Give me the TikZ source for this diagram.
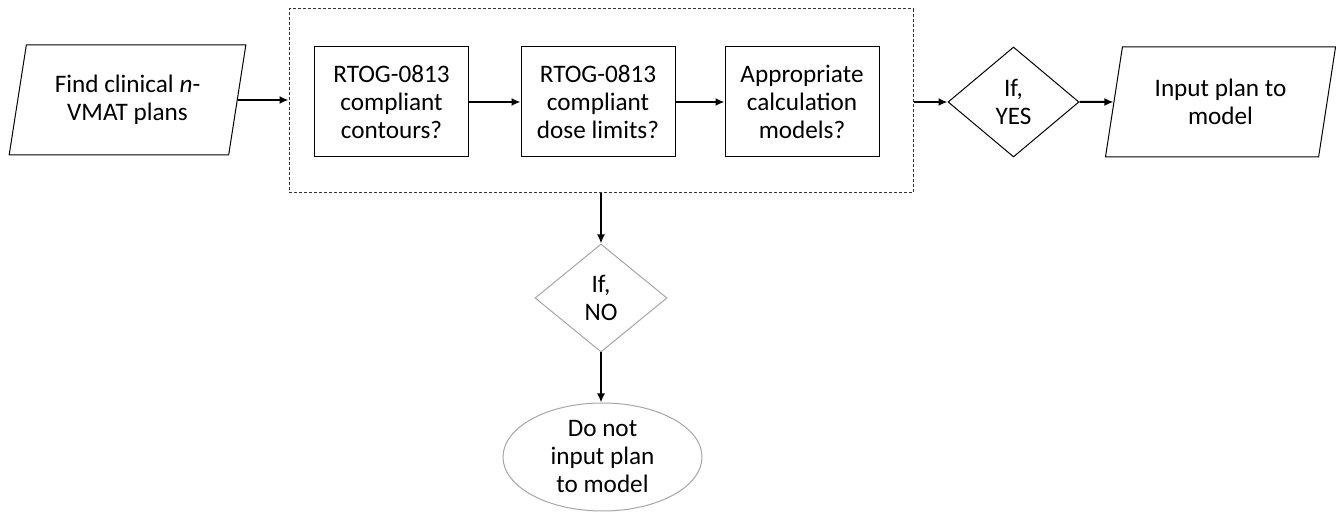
\documentclass[tikz,border=0pt]{standalone}
\usepackage{fontspec}
\setmainfont{Carlito}
\usetikzlibrary{shapes.geometric,arrows.meta}
\begin{document}
\begin{tikzpicture}[x=0.5pt,y=-0.5pt,
  every node/.style={font=\fontsize{12.6}{14}\selectfont, align=center, inner sep=0pt},
  plan/.style={draw, line width=0.5pt, trapezium, trapezium left angle=76, trapezium right angle=104,
    trapezium stretches=true, minimum width=119pt, minimum height=55pt},
  check/.style={draw, line width=0.5pt, rectangle, minimum width=77pt, minimum height=55pt},
  test/.style={draw, line width=0.5pt, diamond, minimum width=65.5pt, minimum height=55pt},
  flow/.style={line width=1pt, -{Latex[length=4.5pt,width=4pt]}}]
\useasboundingbox (0,0) rectangle (1336,512);
% input side
\node [plan] (find) at (127.5,100) {Find clinical \emph{n}-\\VMAT plans};
% checks, inside the dashed frame
\node [draw=black!80, line width=0.5pt, dash pattern=on 1.5pt off 1pt,
  minimum width=312pt, minimum height=92pt] (checks) at (601,101) {};
\node [check] (contours) at (391.5,102) {RTOG-0813\\compliant\\contours?};
\node [check] (dose) at (598,102) {RTOG-0813\\compliant\\dose limits?};
\node [check] (calc) at (802,102) {Appropriate\\calculation\\models?};
% yes branch
\node [test] (yes) at (1013.5,102) {If,\\YES};
\node [plan, minimum width=115.5pt] (input) at (1220.5,102) {Input plan to\\model};
% no branch
\node [test, draw=black!35, minimum width=66pt, minimum height=54pt] (no) at (601,298) {If,\\NO};
\node [draw=black!35, line width=0.5pt, ellipse, minimum width=99.5pt, minimum height=54pt]
  (reject) at (602.5,457) {Do not\\input plan\\to model};
\draw [flow] (find.east) -- (checks.west |- find.east);
\draw [flow] (contours) -- (dose);
\draw [flow] (dose) -- (calc);
\draw [flow] (checks.east |- yes.west) -- (yes.west);
\draw [flow] (yes) -- (input);
\draw [flow] (checks.south) -- (no.north);
\draw [flow] (no.south) -- (reject.north -| no.south);
\end{tikzpicture}
\end{document}
